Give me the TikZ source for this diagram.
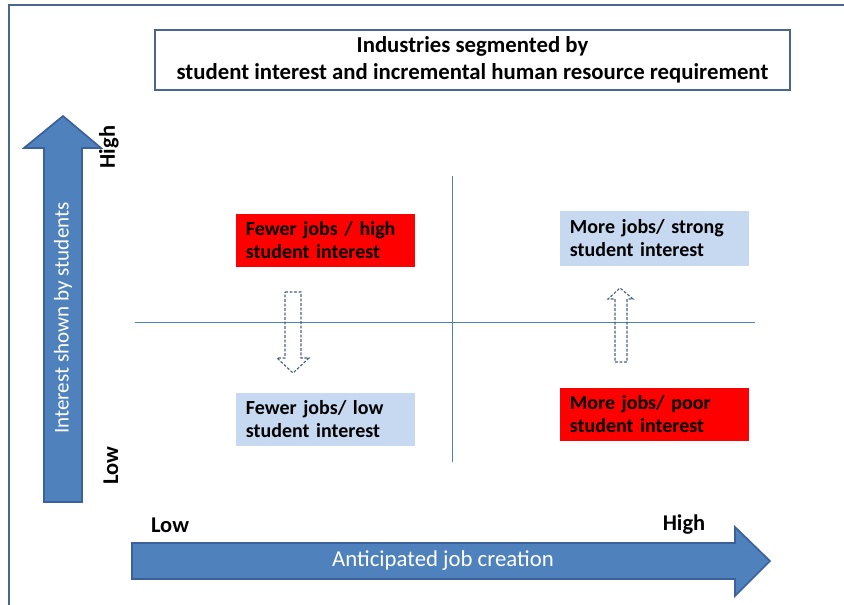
\documentclass[tikz,border=0pt]{standalone}
\usepackage{fontspec}
\setmainfont{Carlito}
\usepackage{xcolor}
\definecolor{axisblue}{HTML}{4F81BD}
\definecolor{axisedge}{HTML}{3C619A}
\definecolor{paleblue}{HTML}{C6D9F1}
\definecolor{frameblue}{HTML}{4A6590}
\definecolor{hintgrey}{HTML}{4A6284}
\tikzset{
	cell/.style={minimum height=1.325cm,text width=3.975cm,inner xsep=0.25cm,align=left,font=\fontsize{14.2}{16.4}\selectfont\bfseries},
	widecell/.style={cell,text width=4.225cm},
	axislabel/.style={font=\fontsize{16}{18}\selectfont\bfseries},
	axistext/.style={text=white,font=\fontsize{15}{17}\selectfont},
	blockarrow/.style={fill=axisblue,draw=axisedge,line width=1.2pt,line join=miter},
	hintarrow/.style={draw=hintgrey,dashed,dash pattern=on 2pt off 1.2pt,line width=0.8pt}
}

\begin{document}
\begin{tikzpicture}[x=0.025cm,y=-0.025cm]
	\useasboundingbox (0,0) rectangle (844,605);
	\draw[frameblue,line width=1.4pt] (9,605)--(9,5)--(844,5);

	\node[draw=frameblue,line width=1.5pt,minimum width=15.875cm,minimum height=1.5cm,align=center,font=\fontsize{16.2}{19}\selectfont\bfseries] (title) at (472.5,60) {Industries segmented by\\student interest and incremental human resource requirement};

	\draw[blockarrow] (44,502)--(44,148)--(24,148)--(63,116)--(101,148)--(82,148)--(82,502)--cycle;
	\node[axistext,rotate=90] (interest) at (63,318) {Interest shown by students};
	\node[axislabel,rotate=90] (yhigh) at (109,147) {High};
	\node[axislabel,rotate=90] (ylow) at (111,466) {Low};

	\draw[blockarrow] (132,543)--(735,543)--(735,527)--(770,561)--(735,596)--(735,579)--(132,579)--cycle;
	\node[axistext,font=\fontsize{16.2}{18}\selectfont] (jobs) at (443,561) {Anticipated job creation};
	\node[axislabel] (xlow) at (170,525) {Low};
	\node[axislabel] (xhigh) at (684,525) {High};

	\draw[axisblue,line width=0.7pt] (135,322)--(755,322);
	\draw[axisblue,line width=0.7pt] (452,176)--(452,462);

	\node[cell,fill=red] (fewhigh) at (325.5,240.5) {Fewer jobs / high\\student interest};
	\node[cell,fill=paleblue] (fewlow) at (325.5,419.5) {Fewer jobs/ low\\student interest};
	\node[widecell,fill=paleblue,minimum height=1.375cm] (morestrong) at (654.5,238.5) {More jobs/ strong\\student interest};
	\node[widecell,fill=red] (morepoor) at (654.5,414.5) {More jobs/ poor\\student interest};

	\draw[hintarrow] (285,292)--(301,292)--(301,358)--(309,358)--(293,373)--(277,358)--(285,358)--cycle;
	\draw[hintarrow] (615,362)--(627,362)--(627,299)--(633,299)--(620,288)--(608,299)--(615,299)--cycle;
\end{tikzpicture}
\end{document}
